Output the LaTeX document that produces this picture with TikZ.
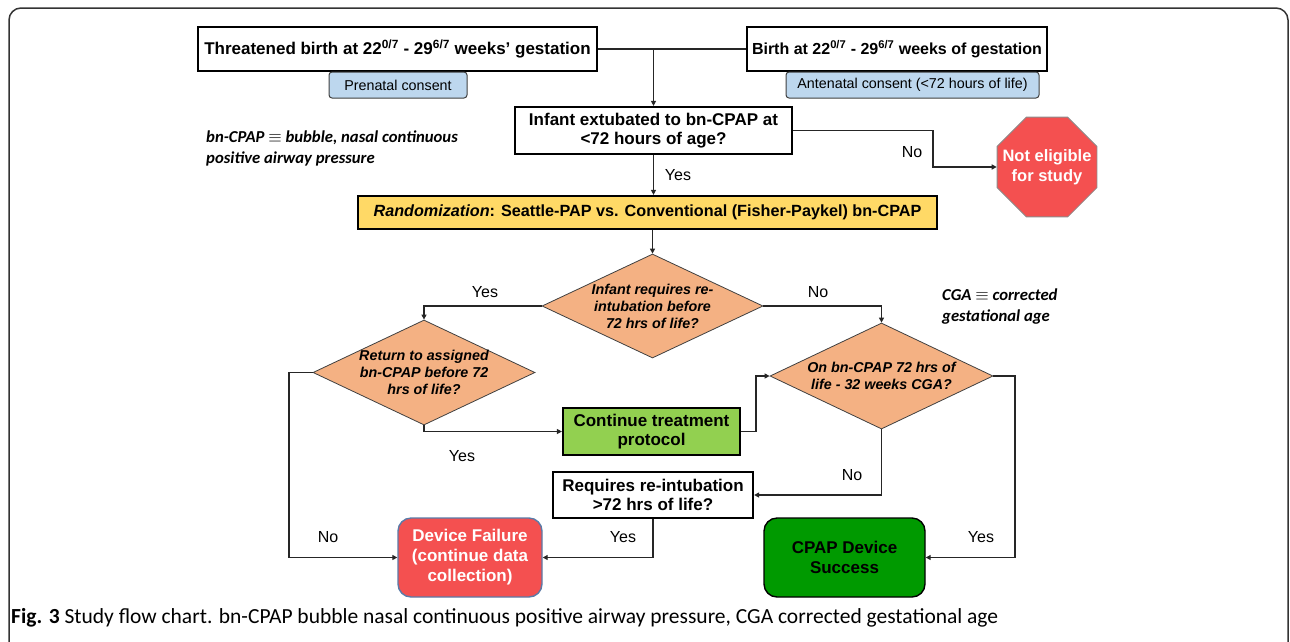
\documentclass[tikz,border=0pt]{standalone}
\usepackage{fontspec}
\setmainfont{Liberation Sans}
\newfontfamily\notefont{Carlito}
\usetikzlibrary{shapes.geometric,arrows.meta,positioning}
\definecolor{flowpeach}{HTML}{F4B183}
\definecolor{flowyellow}{HTML}{FFD966}
\definecolor{flowlime}{HTML}{92D050}
\definecolor{flowgreen}{HTML}{009A00}
\definecolor{flowred}{HTML}{F45050}
\definecolor{flowblue}{HTML}{BDD7EE}
\definecolor{flowslate}{HTML}{5A7BA8}

\begin{document}
\begin{tikzpicture}[
    x=1pt,y=-1pt,
    boite/.style   = {rectangle,draw=black,line width=2.2pt,fill=white,align=center,
                      font=\fontsize{17}{19}\selectfont\bfseries,inner sep=0pt},
    consent/.style = {rectangle,rounded corners=3pt,draw=black!75,line width=1pt,
                      fill=flowblue,font=\fontsize{14.3}{16}\selectfont,inner sep=0pt},
    choix/.style   = {diamond,draw=black!75,line width=0.8pt,fill=flowpeach,align=center,
                      font=\fontsize{14.3}{17}\selectfont\bfseries\itshape,inner sep=-24pt},
    issue/.style   = {rectangle,rounded corners=13pt,line width=1.4pt,align=center,
                      font=\fontsize{17}{20}\selectfont\bfseries,inner sep=0pt,
                      minimum width=144pt,minimum height=79pt},
    note/.style    = {anchor=west,align=left,inner sep=0pt,
                      font=\notefont\fontsize{16.7}{21}\selectfont\bfseries\itshape},
    fl/.style      = {-{Triangle[length=5pt,width=5pt]},black!85,line width=1.4pt},
    ln/.style      = {black!85,line width=1.4pt},
    lab/.style     = {font=\fontsize{16}{18}\selectfont,inner sep=0pt},
  ]

  \useasboundingbox (0,0) rectangle (1290,641);
  \draw[black!80,line width=1.5pt,rounded corners=12pt]
       (9,650) -- (9,8) -- (1288,8) -- (1288,650);

  \node[boite,minimum width=399pt,minimum height=44pt] (menace) at (397.5,49)
       {Threatened birth at 22\textsuperscript{0/7} - 29\textsuperscript{6/7} weeks’ gestation};
  \node[consent,minimum width=138pt,minimum height=26pt] (prenat) at (398,85)
       {Prenatal consent};
  \node[boite,minimum width=300pt,minimum height=44pt,font=\fontsize{16}{19}\selectfont\bfseries]
       (naiss) at (897,49)
       {Birth at 22\textsuperscript{0/7} - 29\textsuperscript{6/7} weeks of gestation};
  \node[consent,minimum width=253pt,minimum height=26pt] (antenat) at (912.5,85)
       {Antenatal consent (<72 hours of life)};

  \node[boite,minimum width=277pt,minimum height=47pt] (extub) at (653.5,130.5)
       {Infant extubated to bn-CPAP at\\<72 hours of age?};
  \node[regular polygon,regular polygon sides=8,fill=flowred,draw=black!45,line width=0.8pt,
        minimum size=108pt,inner sep=-14pt,align=center,text=white,
        font=\fontsize{16.5}{20}\selectfont\bfseries] (stop) at (1047,167)
       {Not eligible\\for study};

  \node[boite,fill=flowyellow,minimum width=579pt,minimum height=33pt,
        font=\fontsize{16.2}{18}\selectfont\bfseries] (rando) at (647.5,212.5)
       {\textit{Randomization}: Seattle-PAP vs. Conventional (Fisher-Paykel) bn-CPAP};

  \node[choix,minimum width=221pt,minimum height=104pt] (reint) at (652.5,306)
       {Infant requires re-\\intubation before\\72 hrs of life?};
  \node[choix,minimum width=222pt,minimum height=105pt] (retour) at (424,372.5)
       {Return to assigned\\bn-CPAP before 72\\hrs of life?};
  \node[choix,minimum width=223pt,minimum height=106pt] (surcpap) at (881.5,376)
       {On bn-CPAP 72 hrs of\\life - 32 weeks CGA?};

  \node[boite,fill=flowlime,minimum width=177pt,minimum height=47pt] (suite) at (651.5,431.5)
       {Continue treatment\\protocol};
  \node[boite,minimum width=200pt,minimum height=46pt] (tardive) at (653,495)
       {Requires re-intubation\\>72 hrs of life?};

  \node[issue,fill=flowred,draw=flowslate,text=white] (echec) at (470,557.5)
       {Device Failure\\(continue data\\collection)};
  \node[issue,fill=flowgreen,draw=black,minimum width=161pt] (succes) at (844.5,557.5)
       {CPAP Device\\Success};

  \node[note] (defcpap) at (206,148)
       {bn-CPAP $\equiv$ bubble, nasal continuous\\positive airway pressure};
  \node[note] (defcga) at (942,307) {CGA $\equiv$ corrected\\gestational age};

  \coordinate (coudeA) at (933,0);
  \coordinate (coudeB) at (289,0);
  \coordinate (coudeC) at (1015,0);

  \draw[ln] (menace.east) -- (naiss.west);
  \draw[fl] (extub.north |- menace.east) -- (extub.north);
  \draw[fl] (extub.east) -- (extub.east -| coudeA) |- (stop.west);
  \draw[fl] (extub.south) -- (extub.south |- rando.north);
  \draw[fl] (reint.north |- rando.south) -- (reint.north);
  \draw[fl] (reint.west) -| (retour.north);
  \draw[fl] (reint.east) -| (surcpap.north);
  \draw[fl] (retour.west) -- (retour.west -| coudeB) |- (echec.west);
  \draw[fl] (retour.south) |- (suite.west);
  \draw[fl] (suite.east) -- ++(15,0) |- (surcpap.west);
  \draw[fl] (surcpap.south) |- (tardive.east);
  \draw[fl] (tardive.south) |- (echec.east);
  \draw[fl] (surcpap.east) -- (surcpap.east -| coudeC) |- (succes.east);

  \node[lab] (nonA) at (912,152) {No};
  \node[lab] (ouiA) at (678,175) {Yes};
  \node[lab] (ouiB) at (485,292) {Yes};
  \node[lab] (nonB) at (818,292) {No};
  \node[lab] (ouiC) at (462,456) {Yes};
  \node[lab] (nonC) at (328,537) {No};
  \node[lab] (nonD) at (852,475) {No};
  \node[lab] (ouiD) at (623,537) {Yes};
  \node[lab] (ouiE) at (981,537) {Yes};

  \node[anchor=west,inner sep=0pt,font=\notefont\fontsize{21.5}{23}\selectfont] (legende) at (11,618)
       {\textbf{Fig. 3} Study flow chart. bn-CPAP bubble nasal continuous positive airway pressure, CGA corrected gestational age};

\end{tikzpicture}
\end{document}
